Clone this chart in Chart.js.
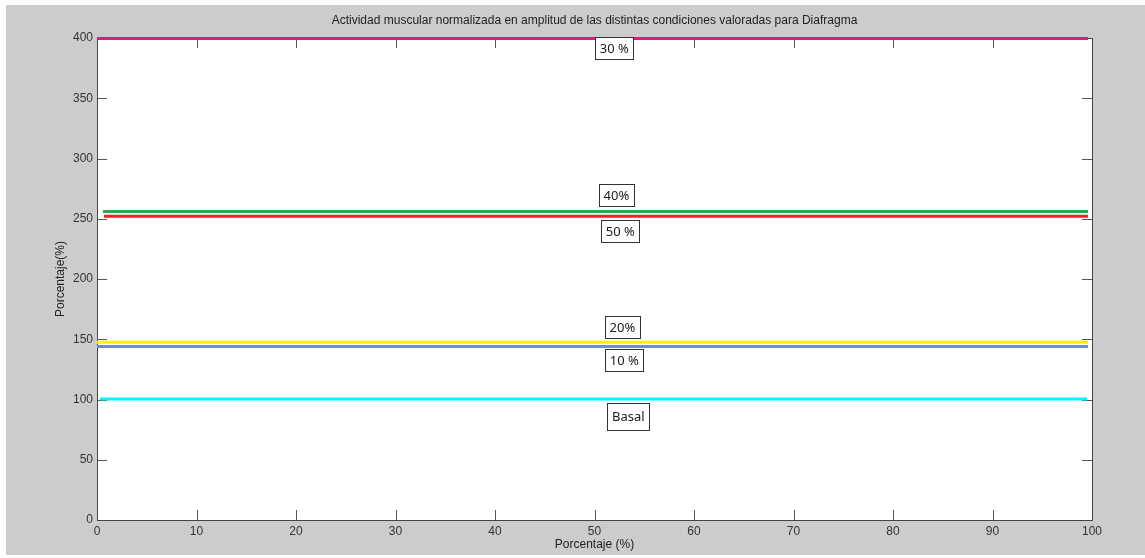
<!DOCTYPE html>
<html lang="es">
<head>
<meta charset="UTF-8">
<title>Diafragma</title>
<style>
    html, body { margin: 0; padding: 0; background: #ffffff; }
    .figura { position: absolute; left: 6px; top: 5px; width: 1139px; height: 550px; background: #cccccc; }
</style>
</head>
<body>
<div class="figura">
    <canvas id="grafico" width="1139" height="550"></canvas>
</div>

<script src="https://cdn.jsdelivr.net/npm/chart.js"></script>
<script>
    // condiciones valoradas
    var condiciones = ['30 %', '40%', '50 %', '20%', '10 %', 'Basal'];
    var colores = ['#f0127e', '#2bab50', '#ef2229', '#fff000', '#6f8ccb', '#00f4ff'];
    // valor constante de cada condicion
    var valores = [399.5, 256, 252, 147.5, 144, 100.5];
    // inicio y fin (eje x) de cada linea
    var xInicio = [0, 0.6, 0.7, 0, 0, 0.3];
    var xFin = [99.6, 99.6, 99.6, 99.6, 99.6, 99.5];
    // posicion de la caja de texto de cada condicion
    var etiquetaX = [52.0, 52.2, 52.6, 52.8, 53.0, 53.4];
    var etiquetaY = [391.5, 269.5, 240, 160, 132.5, 86];

    var ticksX = [0, 10, 20, 30, 40, 50, 60, 70, 80, 90, 100];
    var ticksY = [0, 50, 100, 150, 200, 250, 300, 350, 400];

    var datasets = [];
    for (var i = 0; i < condiciones.length; i++) {
        datasets.push({
            label: condiciones[i],
            data: [{ x: xInicio[i], y: valores[i] }, { x: xFin[i], y: valores[i] }],
            borderColor: colores[i],
            borderWidth: 3,
            pointRadius: 0,
            fill: false,
            clip: 4,
            xAxisID: 'x',
            yAxisID: 'y'
        });
    }

    // marco y marcas hacia dentro, estilo matlab
    var marcoPlugin = {
        id: 'marco',
        beforeDatasetsDraw: function (chart) {
            var ctx = chart.ctx;
            var a = chart.chartArea;
            var sx = chart.scales.x;
            var sy = chart.scales.y;
            ctx.save();
            ctx.strokeStyle = '#555555';
            ctx.lineWidth = 1;
            ctx.beginPath();
            ticksX.forEach(function (v) {
                var px = Math.round(sx.getPixelForValue(v)) + 0.5;
                ctx.moveTo(px, a.bottom); ctx.lineTo(px, a.bottom - 10);
                ctx.moveTo(px, a.top); ctx.lineTo(px, a.top + 10);
            });
            ticksY.forEach(function (v) {
                var py = Math.round(sy.getPixelForValue(v)) + 0.5;
                ctx.moveTo(a.left, py); ctx.lineTo(a.left + 10, py);
                ctx.moveTo(a.right, py); ctx.lineTo(a.right - 10, py);
            });
            ctx.stroke();
            ctx.strokeStyle = '#444444';
            ctx.strokeRect(Math.round(a.left) + 0.5, Math.round(a.top) + 0.5,
                Math.round(a.right - a.left), Math.round(a.bottom - a.top));
            ctx.restore();
        }
    };

    var etiquetasPlugin = {
        id: 'etiquetas',
        afterDraw: function (chart) {
            var ctx = chart.ctx;
            var sx = chart.scales.x;
            var sy = chart.scales.y;
            ctx.save();
            ctx.font = '13px "Noto Sans"';
            ctx.textAlign = 'center';
            ctx.textBaseline = 'middle';
            for (var i = 0; i < condiciones.length; i++) {
                var cx = sx.getPixelForValue(etiquetaX[i]);
                var cy = sy.getPixelForValue(etiquetaY[i]);
                var w = Math.round(ctx.measureText(condiciones[i]).width + 9);
                var h = i == 5 ? 27 : 22;
                var x0 = Math.round(cx - w / 2) + 0.5;
                var y0 = Math.round(cy - h / 2) + 0.5;
                ctx.fillStyle = '#ffffff';
                ctx.fillRect(x0, y0, w, h);
                ctx.strokeStyle = '#333333';
                ctx.lineWidth = 1;
                ctx.strokeRect(x0, y0, w, h);
                ctx.fillStyle = '#1a1a1a';
                ctx.fillText(condiciones[i], cx, cy + 1);
            }
            ctx.restore();
        }
    };

    var fondoPlugin = {
        id: 'fondo',
        beforeDraw: function (chart) {
            var a = chart.chartArea;
            chart.ctx.save();
            chart.ctx.fillStyle = '#ffffff';
            chart.ctx.fillRect(a.left, a.top, a.right - a.left, a.bottom - a.top);
            chart.ctx.restore();
        }
    };

    var fuente = { family: '"Liberation Sans"', size: 12 };

    var config = {
        type: 'line',
        data: { datasets: datasets },
        options: {
            responsive: false,
            animation: false,
            layout: { padding: { left: 0, top: 0, right: 53, bottom: 0 } },
            scales: {
                x: {
                    type: 'linear',
                    min: 0,
                    max: 100,
                    afterBuildTicks: function (s) { s.ticks = ticksX.map(function (v) { return { value: v }; }); },
                    afterFit: function (s) { s.height = 35; },
                    grid: { display: false, drawTicks: false },
                    border: { display: false },
                    ticks: { padding: 4, color: '#333333', font: fuente, maxRotation: 0 },
                    title: {
                        display: true,
                        text: 'Porcentaje (%)',
                        color: '#222222',
                        font: fuente,
                        padding: { top: 0, bottom: 3 }
                    }
                },
                // eje superior solo para el titulo, centrado sobre el area de datos
                xTitulo: {
                    type: 'linear',
                    position: 'top',
                    min: 0,
                    max: 100,
                    afterFit: function (s) { s.height = 33; },
                    grid: { display: false, drawTicks: false },
                    border: { display: false },
                    ticks: { display: false },
                    title: {
                        display: true,
                        text: 'Actividad muscular normalizada en amplitud de las distintas condiciones valoradas para Diafragma',
                        color: '#222222',
                        font: { family: '"Liberation Sans"', size: 12 },
                        padding: { top: 8, bottom: 0 }
                    }
                },
                y: {
                    type: 'linear',
                    min: 0,
                    max: 400,
                    afterBuildTicks: function (s) { s.ticks = ticksY.map(function (v) { return { value: v }; }); },
                    afterFit: function (s) { s.width = 91; },
                    grid: { display: false, drawTicks: false },
                    border: { display: false },
                    ticks: { padding: 4, color: '#333333', font: fuente },
                    title: {
                        display: true,
                        text: 'Porcentaje(%)',
                        color: '#222222',
                        font: fuente,
                        padding: { top: 47, bottom: 0 }
                    }
                }
            },
            plugins: {
                legend: { display: false },
                tooltip: { enabled: false },
                title: { display: false }
            }
        },
        plugins: [fondoPlugin, marcoPlugin, etiquetasPlugin]
    };

    var grafico = new Chart(document.getElementById('grafico'), config);
</script>
</body>
</html>
